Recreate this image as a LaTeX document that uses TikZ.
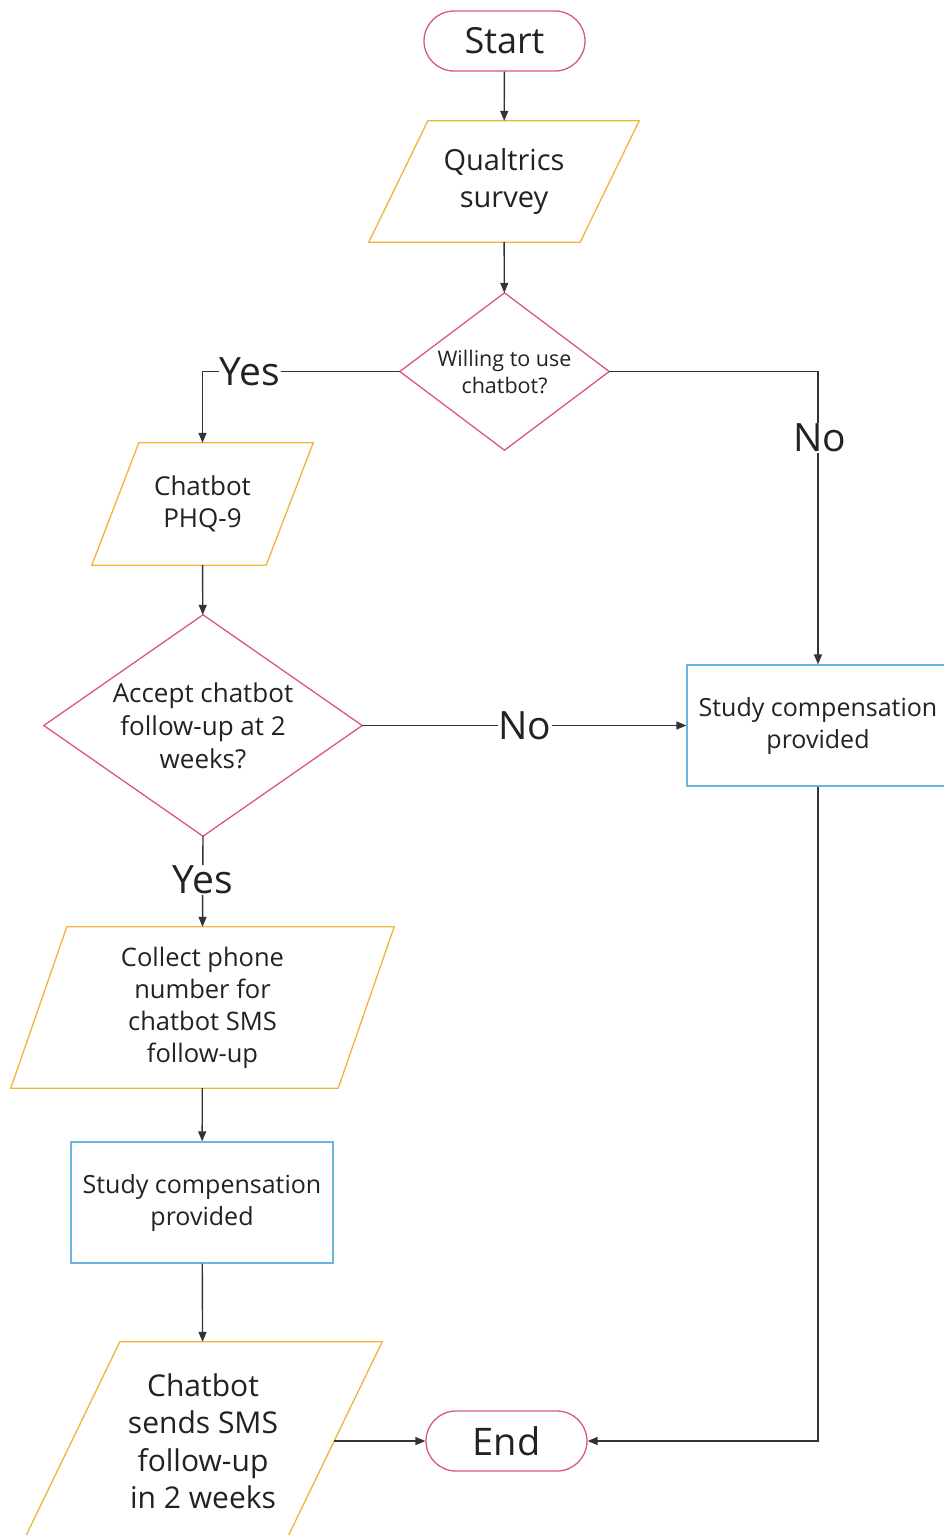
\documentclass[tikz,border=0pt]{standalone}
\usepackage{fontspec}
\setmainfont{Open Sans}
\usetikzlibrary{arrows.meta,calc}
\definecolor{pinkc}{HTML}{D9558C}
\definecolor{orangec}{HTML}{F2B33D}
\definecolor{bluec}{HTML}{6BB5E0}
\definecolor{linec}{HTML}{333333}
\definecolor{txtc}{HTML}{222222}
\newcommand{\fs}[2]{\fontsize{#1}{#2}\selectfont}
\tikzset{
  terminal/.style={draw=pinkc,line width=1.3pt,rounded corners=30pt,minimum width=161pt,minimum height=60pt,inner sep=0pt,text=txtc,font=\fs{36}{40}},
  para/.style={draw=none,inner sep=0pt,align=center,text=txtc},
  dia/.style={draw=none,inner sep=0pt,align=center,text=txtc},
  procbox/.style={draw=bluec,line width=1.3pt,inner sep=0pt,align=center,text=txtc,font=\fs{25}{32}},
  conn/.style={draw=linec,line width=1.4pt},
  arr/.style={conn,-{Triangle[length=10pt,width=8pt]}},
  lab/.style={fill=white,inner sep=1pt,text=txtc,font=\fs{39}{42}},
}
\begin{document}
\begin{tikzpicture}[x=1pt,y=-1pt]
\useasboundingbox (0,0) rectangle (944,1535);
\fill[white] (0,0) rectangle (944,1535);
% nodes
\node[terminal] (start) at (504.5,41) {Start};
\node[para,minimum width=211pt,minimum height=121pt,font=\fs{29}{37}] (qual) at (504,181.5) {Qualtrics\\survey};
\node[dia,minimum width=209pt,minimum height=157pt,font=\fs{21.5}{27}] (will) at (504.5,371.5) {Willing to use\\chatbot?};
\node[para,minimum width=174pt,minimum height=122pt,font=\fs{26}{32}] (phq) at (202.5,504) {Chatbot\\PHQ-9};
\node[dia,minimum width=318pt,minimum height=221pt,font=\fs{26}{33}] (acc) at (203,725.5) {Accept chatbot\\follow-up at 2\\weeks?};
\node[para,minimum width=327pt,minimum height=161pt,font=\fs{25.5}{32}] (coll) at (202.5,1007.5) {Collect phone\\number for\\chatbot SMS\\follow-up};
\node[procbox,minimum width=262pt,minimum height=121pt] (comp1) at (202,1202.5) {Study compensation\\provided};
\node[para,minimum width=262pt,minimum height=198pt,font=\fs{30}{37.5}] (sms) at (203,1441) {Chatbot\\sends SMS\\follow-up\\in 2 weeks};
\node[terminal,font=\fs{38}{40}] (end) at (506.5,1441) {End};
\node[procbox,minimum width=262pt,minimum height=121pt] (comp2) at (818,725.5) {Study compensation\\provided};
% shapes
\foreach \n/\s in {qual/59,phq/47,coll/56,sms/96}{
  \draw[orangec,line width=1.3pt] ($(\n.north west)+(\s/2,0)$) -- ($(\n.north east)+(\s/2,0)$) -- ($(\n.south east)+(-\s/2,0)$) -- ($(\n.south west)+(-\s/2,0)$) -- cycle;
}
\foreach \n in {will,acc}{
  \draw[pinkc,line width=1.3pt] (\n.north) -- (\n.east) -- (\n.south) -- (\n.west) -- cycle;
}
% connectors
\draw[arr] (start) -- (qual);
\draw[arr] (qual) -- (will);
\draw[arr] (will.west) -| (phq.north);
\node[lab] (yes1) at (250,371.5) {Yes};
\draw[arr] (will.east) -| (comp2.north);
\node[lab] (no1) at (820,438) {No};
\draw[arr] (phq) -- (acc);
\draw[arr] (acc.east) -- (comp2.west);
\node[lab] (no2) at (525,725.5) {No};
\draw[arr] (acc.south) -- (coll.north);
\node[lab] (yes2) at (203,880) {Yes};
\draw[arr] (coll) -- (comp1);
\draw[arr] (comp1) -- (sms);
\draw[arr] (sms.east) -- (end.west);
\draw[arr] (comp2.south) |- (end.east);
\end{tikzpicture}
\end{document}
